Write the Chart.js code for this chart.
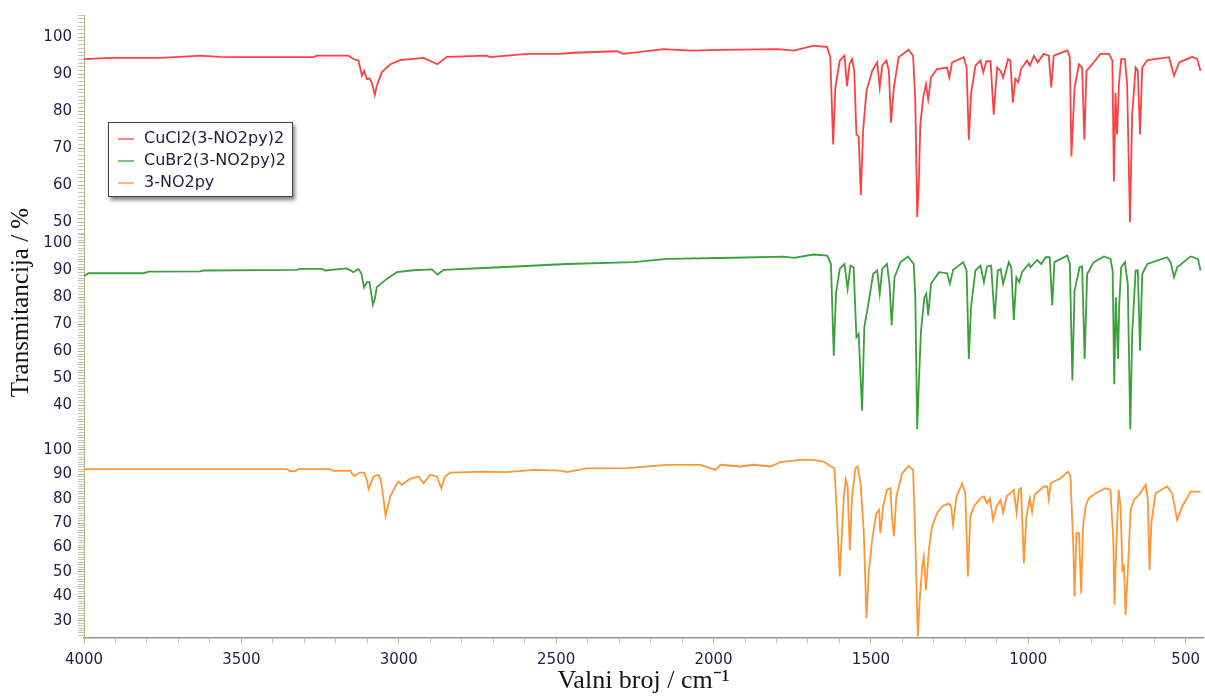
<!DOCTYPE html>
<html>
<head>
<meta charset="utf-8">
<script src="https://cdn.jsdelivr.net/npm/chart.js@4.4.1/dist/chart.umd.min.js"></script>
<style>
  body { margin: 0; background: #fff; }
  #wrap { position: relative; width: 1205px; height: 697px; }
  #legend {
    position: absolute; left: 108px; top: 122px; width: 183px; height: 73px;
    border: 1px solid #444; background: #fff;
    box-shadow: 2px 3px 4px rgba(0,0,0,0.5);
    font: 16px "DejaVu Sans", sans-serif; color: #1e1e3c;
  }
  #legend .row { position: absolute; left: 9px; height: 22px; line-height: 22px; white-space: nowrap; }
  #legend .sw { display: inline-block; width: 16px; height: 2px; vertical-align: middle; margin-right: 10px; }
</style>
</head>
<body>
<div id="wrap">
  <canvas id="irChart" width="1205" height="697"></canvas>
  <div id="legend"></div>
</div>
<script>
const seriesNames = ['CuCl2(3-NO2py)2', 'CuBr2(3-NO2py)2', '3-NO2py'];

// CuCl2(3-NO2py)2 - top panel
const cuclWn = [4000, 3949, 3907, 3758, 3695, 3631, 3568, 3525, 3271, 3260, 3160, 3144, 3128, 3117, 3110, 3101, 3093, 3086, 3076, 3070,
  3054, 3027, 2996, 2921, 2877, 2847, 2720, 2710, 2593, 2487, 2445, 2307, 2286, 2159, 2074, 1978, 1798, 1745, 1682, 1639,
  1629, 1620, 1613, 1599, 1584, 1576, 1568, 1560, 1553, 1546, 1539, 1532, 1525, 1514, 1496, 1480, 1472, 1464, 1451, 1443,
  1436, 1427, 1412, 1380, 1366, 1359, 1353, 1348, 1343, 1334, 1325, 1318, 1309, 1290, 1258, 1251, 1242, 1205, 1196, 1189,
  1182, 1168, 1152, 1143, 1133, 1120, 1110, 1099, 1088, 1080, 1064, 1057, 1049, 1041, 1032, 1023, 1004, 995, 982, 970,
  951, 935, 927, 919, 876, 868, 863, 853, 839, 829, 822, 815, 797, 771, 744, 733, 728, 723, 718, 712,
  705, 693, 686, 677, 670, 659, 652, 645, 638, 622, 553, 537, 521, 479, 463, 453];
const cuclT = [94.1, 94.3, 94.4, 94.4, 94.7, 95.0, 94.7, 94.6, 94.6, 95.0, 95.0, 94.1, 93.7, 89.6, 90.9, 88.7, 88.9, 87.8, 84.4, 86.8,
  90.5, 92.7, 93.8, 94.4, 92.7, 94.7, 95.0, 94.6, 95.5, 95.5, 95.8, 96.2, 95.5, 96.8, 96.4, 96.6, 96.8, 96.4, 97.7, 97.3,
  94.6, 71.0, 86.4, 93.7, 95.0, 86.8, 92.7, 94.1, 90.9, 73.7, 73.2, 57.3, 74.6, 85.5, 90.9, 93.2, 86.4, 92.3, 93.7, 90.9,
  76.9, 86.4, 94.6, 96.6, 95.0, 82.8, 51.4, 60.1, 76.4, 83.7, 87.3, 83.2, 89.1, 91.4, 91.8, 89.1, 93.2, 94.6, 91.8, 72.3,
  84.6, 92.3, 93.7, 90.5, 93.5, 93.5, 79.1, 91.8, 90.9, 89.1, 94.1, 93.7, 82.3, 88.7, 87.8, 91.4, 93.7, 92.3, 95.0, 93.2,
  95.5, 95.0, 86.4, 95.0, 96.4, 94.6, 67.8, 86.4, 92.7, 91.8, 72.3, 90.9, 92.7, 95.5, 95.5, 93.7, 61.0, 85.0, 73.7, 87.3,
  94.1, 94.1, 87.3, 50.1, 79.1, 91.8, 90.9, 73.7, 91.8, 93.8, 94.6, 89.6, 93.2, 94.7, 94.1, 90.9];

// CuBr2(3-NO2py)2 - middle panel
const cubrWn = [4000, 3986, 3811, 3795, 3631, 3621, 3324, 3313, 3244, 3234, 3165, 3144, 3128, 3119, 3110, 3101, 3093, 3089, 3082, 3075,
  3070, 3038, 3006, 2953, 2895, 2877, 2858, 2678, 2466, 2254, 2148, 1936, 1777, 1745, 1682, 1639, 1627, 1618, 1611, 1599,
  1584, 1574, 1565, 1555, 1546, 1539, 1528, 1521, 1510, 1493, 1480, 1472, 1464, 1449, 1441, 1434, 1425, 1406, 1382, 1364,
  1359, 1353, 1347, 1341, 1330, 1324, 1318, 1309, 1284, 1258, 1249, 1239, 1207, 1196, 1189, 1182, 1168, 1152, 1141, 1131,
  1118, 1107, 1097, 1088, 1080, 1062, 1054, 1046, 1038, 1029, 1020, 998, 993, 972, 959, 945, 932, 924, 917, 876,
  868, 860, 853, 837, 829, 821, 813, 792, 760, 739, 732, 727, 722, 715, 711, 705, 693, 684, 676, 670,
  659, 652, 645, 638, 622, 559, 548, 537, 527, 484, 461, 453];
const cubrT = [87.8, 88.8, 88.8, 89.4, 89.5, 89.8, 90.0, 90.4, 90.4, 89.8, 90.6, 89.2, 90.4, 88.8, 83.6, 85.5, 85.5, 82.4, 77.2, 79.9,
  83.6, 86.7, 89.2, 89.9, 90.2, 88.3, 90.0, 91.0, 92.2, 92.9, 94.1, 94.5, 94.9, 94.5, 95.7, 95.3, 92.2, 58.4, 81.2, 90.4,
  92.2, 83.0, 91.6, 91.0, 65.2, 66.4, 38.1, 68.9, 76.2, 88.5, 89.8, 81.2, 90.4, 92.2, 84.9, 69.5, 87.3, 92.9, 95.0, 92.2,
  79.9, 31.3, 50.4, 67.6, 79.9, 81.2, 73.2, 84.9, 89.2, 88.8, 84.9, 90.0, 92.9, 89.8, 57.2, 76.2, 89.8, 91.6, 85.5, 91.3,
  91.6, 71.9, 89.8, 90.4, 84.9, 92.9, 91.0, 71.6, 87.3, 85.5, 89.2, 92.2, 91.0, 93.7, 92.2, 94.7, 94.7, 76.9, 92.9, 95.3,
  92.2, 49.2, 82.4, 91.0, 91.3, 57.2, 88.5, 92.9, 95.0, 94.1, 89.8, 47.9, 79.9, 57.2, 77.5, 91.0, 92.9, 84.9, 31.3, 66.4,
  89.8, 89.8, 60.2, 88.5, 92.2, 94.7, 92.9, 87.3, 91.0, 95.0, 94.1, 89.8];

// 3-NO2py - bottom panel
const nopyWn = [4000, 3356, 3345, 3329, 3319, 3218, 3207, 3154, 3142, 3123, 3110, 3101, 3096, 3089, 3080, 3064, 3057, 3048, 3042, 3036,
  3027, 3011, 3001, 2990, 2966, 2937, 2921, 2900, 2879, 2865, 2853, 2837, 2731, 2657, 2572, 2487, 2466, 2402, 2275, 2148,
  2042, 1994, 1978, 1915, 1872, 1819, 1788, 1724, 1682, 1650, 1629, 1616, 1608, 1599, 1592, 1586, 1580, 1574, 1567, 1560,
  1549, 1542, 1533, 1523, 1514, 1507, 1496, 1483, 1474, 1470, 1461, 1449, 1438, 1433, 1427, 1419, 1401, 1380, 1366, 1359,
  1351, 1345, 1337, 1332, 1325, 1316, 1306, 1290, 1274, 1253, 1245, 1239, 1228, 1210, 1200, 1192, 1184, 1173, 1152, 1141,
  1131, 1122, 1112, 1101, 1088, 1080, 1069, 1046, 1037, 1030, 1023, 1014, 1006, 995, 988, 980, 951, 940, 935, 929,
  898, 874, 866, 857, 853, 847, 839, 832, 826, 818, 808, 786, 755, 739, 730, 726, 720, 713, 707, 701,
  696, 691, 683, 675, 664, 645, 627, 620, 615, 609, 596, 559, 543, 527, 511, 484, 453];
const nopyT = [92.1, 92.1, 91.3, 91.3, 92.1, 92.1, 91.4, 91.4, 89.3, 90.7, 90.7, 87.7, 83.9, 86.3, 89.1, 89.8, 87.7, 79.5, 72.9, 76.1,
  80.9, 85.0, 87.0, 85.7, 88.0, 89.1, 86.3, 89.8, 89.1, 84.3, 89.1, 90.7, 91.1, 90.9, 91.8, 91.5, 90.9, 92.4, 92.5, 93.9,
  93.9, 91.8, 93.9, 93.2, 93.9, 93.2, 95.0, 95.9, 95.9, 95.2, 93.4, 92.5, 74.0, 48.1, 65.9, 80.9, 88.0, 85.0, 59.0, 80.9,
  92.5, 93.2, 86.3, 67.2, 31.0, 49.5, 63.1, 74.0, 75.4, 65.9, 76.8, 83.6, 84.3, 72.7, 64.5, 80.9, 90.4, 93.4, 91.8, 63.1,
  23.5, 38.5, 52.2, 56.3, 42.6, 59.0, 68.6, 74.0, 76.8, 78.1, 76.8, 69.3, 80.9, 86.3, 82.2, 48.1, 72.7, 76.8, 80.2, 80.9,
  78.1, 80.2, 71.3, 76.8, 79.5, 74.3, 80.9, 83.6, 74.0, 83.6, 84.3, 53.6, 72.7, 80.2, 74.7, 81.6, 85.0, 85.0, 79.8, 86.3,
  88.4, 91.1, 89.1, 60.4, 39.9, 65.9, 65.9, 41.3, 68.6, 76.8, 80.2, 82.2, 84.3, 83.6, 63.1, 36.5, 63.1, 83.6, 76.8, 50.8,
  52.2, 32.4, 52.2, 75.4, 79.5, 82.2, 85.7, 79.5, 50.8, 69.9, 82.2, 85.0, 82.2, 71.3, 76.8, 82.9, 82.9];

const lineColors = ['rgb(255,64,64)', 'rgb(58,160,58)', 'rgb(255,150,54)'];
const legendColors = ['rgba(255,64,64,0.65)', 'rgba(58,160,58,0.65)', 'rgba(255,150,54,0.65)'];

const axisOlive = '#b3b17c';
const minorGrey = '#c4c4c4';
const labelColor = '#1f1f48';
const tickFont = { family: '"DejaVu Sans", Verdana, sans-serif', size: 15 };

function toPoints(wn, t) {
  return wn.map((w, i) => ({ x: w, y: t[i] }));
}

function panelAxis(min, max, stackWeight, weight) {
  return {
    type: 'linear',
    position: 'left',
    stack: 'ir',
    stackWeight: stackWeight,
    weight: weight,
    min: min,
    max: max,
    afterFit: scale => { scale.width = 84; },
    border: { color: axisOlive, width: 1 },
    grid: {
      drawOnChartArea: false,
      tickLength: 6,
      tickColor: ctx => (ctx.tick && ctx.tick.value % 10 === 0) ? axisOlive : minorGrey
    },
    ticks: {
      stepSize: 1,
      maxTicksLimit: 1000,
      autoSkip: false,
      includeBounds: false,
      padding: 6,
      color: labelColor,
      font: tickFont,
      callback: v => v % 10 === 0 ? v : ''
    }
  };
}

const yTitlePlugin = {
  id: 'yTitle',
  afterDraw(chart) {
    const { ctx, chartArea } = chart;
    ctx.save();
    ctx.translate(21, chartArea.top + (chartArea.bottom - chartArea.top) * 0.462);
    ctx.rotate(-Math.PI / 2);
    ctx.font = '25px "Liberation Serif", "Times New Roman", serif';
    ctx.fillStyle = '#141414';
    ctx.textAlign = 'center';
    ctx.textBaseline = 'middle';
    ctx.fillText('Transmitancija / %', 0, 0);
    ctx.restore();
  }
};

new Chart(document.getElementById('irChart'), {
  type: 'line',
  data: {
    datasets: [
      { label: seriesNames[0], data: toPoints(cuclWn, cuclT), yAxisID: 'yTop', borderColor: lineColors[0] },
      { label: seriesNames[1], data: toPoints(cubrWn, cubrT), yAxisID: 'yMid', borderColor: lineColors[1] },
      { label: seriesNames[2], data: toPoints(nopyWn, nopyT), yAxisID: 'yBot', borderColor: lineColors[2] }
    ]
  },
  options: {
    responsive: false,
    animation: false,
    layout: { padding: { top: 15, right: 2, left: 0, bottom: 0 } },
    elements: {
      line: { borderWidth: 1.8, tension: 0, fill: false },
      point: { radius: 0 }
    },
    plugins: {
      legend: { display: false },
      tooltip: { enabled: false }
    },
    scales: {
      x: {
        type: 'linear',
        position: 'bottom',
        min: 445,
        max: 4000,
        reverse: true,
        afterFit: scale => {
          scale.height = 59.7;
          scale.paddingLeft = 0;
          scale.paddingRight = 0;
        },
        border: { color: '#909a82', width: 1.5 },
        grid: {
          drawOnChartArea: false,
          tickLength: 6,
          tickColor: ctx => (ctx.tick && ctx.tick.value % 500 === 0) ? axisOlive : minorGrey
        },
        ticks: {
          stepSize: 100,
          maxTicksLimit: 1000,
          autoSkip: false,
          includeBounds: false,
          maxRotation: 0,
          padding: 8,
          color: labelColor,
          font: tickFont,
          callback: v => v % 500 === 0 ? v : ''
        },
        title: {
          display: true,
          text: 'Valni broj / cm⁻¹',
          color: '#141414',
          padding: { top: 0, bottom: 0 },
          font: { family: '"Liberation Serif", "Times New Roman", serif', size: 26 }
        }
      },
      yBot: panelAxis(23.2, 107.4, 205.4, 1),
      yMid: panelAxis(30.3, 103.5, 198.4, 2),
      yTop: panelAxis(47, 106, 218.3, 3)
    }
  },
  plugins: [yTitlePlugin]
});

// legend box inside the top panel
const legendEl = document.getElementById('legend');
seriesNames.forEach((name, i) => {
  const row = document.createElement('div');
  row.className = 'row';
  row.style.top = (4 + i * 22) + 'px';
  const sw = document.createElement('span');
  sw.className = 'sw';
  sw.style.background = legendColors[i];
  row.appendChild(sw);
  row.appendChild(document.createTextNode(name));
  legendEl.appendChild(row);
});
</script>
</body>
</html>
